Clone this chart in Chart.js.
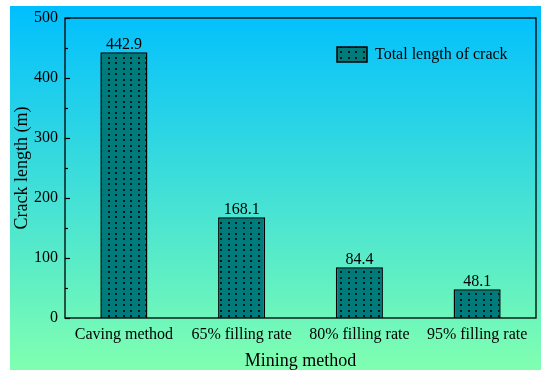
<!DOCTYPE html>
<html>
<head>
<meta charset="utf-8">
<script src="https://cdn.jsdelivr.net/npm/chart.js@4.4.0/dist/chart.umd.min.js"></script>
<style>
  html, body { margin: 0; padding: 0; background: #fff; }
  #wrap { position: relative; width: 550px; height: 379px; }
</style>
</head>
<body>
<div id="wrap"><canvas id="chart" width="550" height="379"></canvas></div>
<script>
const categories = ["Caving method", "65% filling rate", "80% filling rate", "95% filling rate"];
const crackLength = [442.9, 168.1, 84.4, 48.1];
const yTicks = [0, 100, 200, 300, 400, 500];
const seriesLabel = "Total length of crack";

const serif = "'Liberation Serif', 'Times New Roman', serif";
Chart.defaults.font.family = serif;
Chart.defaults.color = "#000";

// dotted teal fill like the original hatch
function makeDots() {
  const c = document.createElement("canvas");
  c.width = 15; c.height = 11;
  const g = c.getContext("2d");
  g.fillStyle = "#007b7b";
  g.fillRect(0, 0, 15, 11);
  g.fillStyle = "rgba(0,0,0,0.8)";
  [[3, 2], [10, 2], [3, 7], [10, 7]].forEach(([x, y]) => g.fillRect(x, y, 2, 2));
  return g.createPattern(c, "repeat");
}
const dots = makeDots();

const backdrop = {
  id: "backdrop",
  beforeDraw(chart) {
    const ctx = chart.ctx;
    const grad = ctx.createLinearGradient(0, 6, 0, 370);
    grad.addColorStop(0, "#00bfff");
    grad.addColorStop(1, "#80ffb0");
    ctx.save();
    ctx.fillStyle = grad;
    ctx.fillRect(10, 6, 531, 364);
    ctx.restore();
  }
};

const frame = {
  id: "frame",
  afterDraw(chart) {
    const { ctx, chartArea: a } = chart;
    const y = chart.scales.y;
    ctx.save();
    ctx.strokeStyle = "#000";
    ctx.lineWidth = 1.3;
    ctx.strokeRect(a.left, a.top, a.right - a.left, a.bottom - a.top);
    // inward ticks, minor every 50
    ctx.lineWidth = 1.2;
    for (let v = 0; v <= 500; v += 50) {
      const py = Math.round(y.getPixelForValue(v)) + 0.5;
      const len = v % 100 === 0 ? 5 : 3;
      ctx.beginPath();
      ctx.moveTo(a.left, py);
      ctx.lineTo(a.left + len, py);
      ctx.stroke();
    }
    ctx.restore();
  }
};

const valueLabels = {
  id: "valueLabels",
  afterDatasetsDraw(chart) {
    const ctx = chart.ctx;
    const meta = chart.getDatasetMeta(0);
    ctx.save();
    ctx.font = "16px " + serif;
    ctx.fillStyle = "#000";
    ctx.textAlign = "center";
    ctx.textBaseline = "alphabetic";
    meta.data.forEach((bar, i) => {
      ctx.fillText(crackLength[i].toFixed(1), bar.x, bar.y - 3);
    });
    ctx.restore();
  }
};

const insideLegend = {
  id: "insideLegend",
  afterDraw(chart) {
    const ctx = chart.ctx;
    const ds = chart.data.datasets[0];
    ctx.save();
    ctx.fillStyle = dots;
    ctx.fillRect(337, 47, 30, 15);
    ctx.strokeStyle = "#000";
    ctx.lineWidth = 1.5;
    ctx.strokeRect(337, 47, 30, 15);
    ctx.font = "16px " + serif;
    ctx.fillStyle = "#000";
    ctx.textBaseline = "middle";
    ctx.fillText(ds.label, 375, 55);
    ctx.restore();
  }
};

new Chart(document.getElementById("chart"), {
  type: "bar",
  data: {
    labels: categories,
    datasets: [{
      label: seriesLabel,
      data: crackLength,
      backgroundColor: dots,
      borderColor: "#000",
      borderWidth: 1.5,
      barPercentage: 0.4,
      categoryPercentage: 1
    }]
  },
  options: {
    responsive: false,
    animation: false,
    layout: { padding: { left: 0, top: 18, right: 14, bottom: 0 } },
    plugins: {
      legend: { display: false },
      tooltip: { enabled: false }
    },
    scales: {
      x: {
        grid: { display: false, drawTicks: false },
        border: { display: false },
        ticks: { font: { size: 16 }, padding: 7, maxRotation: 0 },
        title: { display: true, text: "Mining method", font: { size: 18 }, padding: { top: 0, bottom: 7 } },
        afterFit(s) { s.height = 61; }
      },
      y: {
        min: 0,
        max: 500,
        grid: { display: false, drawTicks: false },
        border: { display: false },
        ticks: {
          stepSize: 100,
          padding: 7,
          font: { size: 16 },
          callback: v => yTicks.includes(v) ? v : ""
        },
        title: { display: true, text: "Crack length (m)", font: { size: 18 }, padding: { top: 11, bottom: 0 } },
        afterFit(s) { s.width = 65; }
      }
    }
  },
  plugins: [backdrop, frame, valueLabels, insideLegend]
});
</script>
</body>
</html>
